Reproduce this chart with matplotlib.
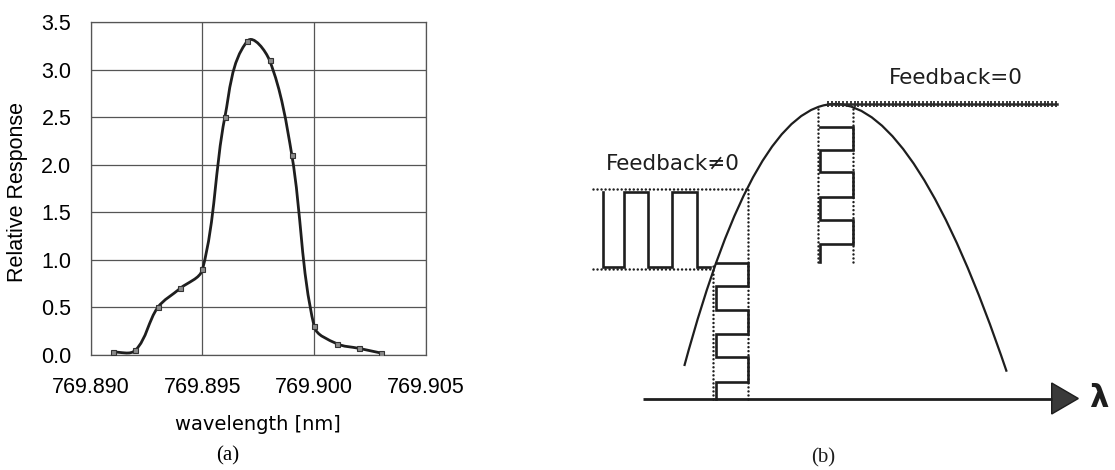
import numpy as np
import matplotlib
matplotlib.use("Agg")
import matplotlib.pyplot as plt
from matplotlib.path import Path
from matplotlib.patches import PathPatch, Polygon

# ---------------- (a) measured response ----------------
wavelength = [769.891, 769.892, 769.893, 769.894, 769.895, 769.896, 769.897,
              769.898, 769.899, 769.900, 769.901, 769.902, 769.903]
response = [0.03, 0.05, 0.50, 0.70, 0.90, 2.50, 3.30,
            3.10, 2.10, 0.30, 0.12, 0.07, 0.02]
x_ticks = [769.890, 769.895, 769.900, 769.905]
y_ticks = [0.0, 0.5, 1.0, 1.5, 2.0, 2.5, 3.0, 3.5]

# ---------------- (b) lock-in schematic (schematic units) ----------------
axis_x = [83.3, 491.7]          # lambda axis start / arrow base
arrow_tip = 518.3
arrow_half = 15.5
# response curve as quadratic Bezier: start, control, end
curve_pts = [(124.3, 32.5), (266.5, 559.35), (446.7, 26.8)]
peak_level = 294.5
flat_x = [268.0, 496.5]
# dithering at the peak (time runs downward)
peak_mod_x = [260.0, 292.6]
peak_mod_levels = [271.2, 248.5, 226.2, 201.8, 178.5, 154.5, 136.8]
peak_guides_x = [258.3, 292.6]
peak_guides_y = [136.8, 290.5]
# dithering on the slope
slope_mod_x = [155.7, 188.3]
slope_mod_levels = [135.5, 112.5, 88.5, 65.0, 41.5, 16.5, 0.0]
slope_guides_x = [153.3, 187.7]
# resulting output signal on the slope
out_edges = [42.7, 64.3, 88.3, 111.7, 136.7, 150.0]
out_hi, out_lo = 206.8, 131.2
out_guide_hi, out_guide_lo = 209.2, 129.2
out_guide_start = 33.3

W, H, DPI = 1115, 470, 100
fig = plt.figure(figsize=(W / DPI, H / DPI), dpi=DPI)
fig.patch.set_facecolor("white")

sans = ["Liberation Sans", "DejaVu Sans"]
ink = "#1e1e1e"

# ---- panel (a)
ax = fig.add_axes([90.7 / W, 1 - 355 / H, (426 - 90.7) / W, (355 - 22.3) / H])
ax.set_xlim(x_ticks[0], x_ticks[-1])
ax.set_ylim(y_ticks[0], y_ticks[-1])
ax.set_xticks(x_ticks)
ax.set_yticks(y_ticks)
ax.set_xticklabels([f"{v:.3f}" for v in x_ticks], fontfamily=sans, fontsize=15.5)
ax.set_yticklabels([f"{v:.1f}" for v in y_ticks], fontfamily=sans, fontsize=15.5)
ax.tick_params(axis="both", length=0)
ax.tick_params(axis="x", pad=16)
ax.tick_params(axis="y", pad=14)
ax.grid(True, color="#555555", linewidth=0.9)
ax.set_axisbelow(True)
for s in ax.spines.values():
    s.set_color("#555555")
    s.set_linewidth(0.9)


def smooth_path(axes, xs, ys, k=1.0 / 3.0):
    """Smoothed line through the points: cubic Bezier segments whose control
    handles follow the neighbour chord and scale with each segment's length
    on screen."""
    to_px = axes.transData
    to_data = axes.transData.inverted()
    pts = to_px.transform(np.column_stack([xs, ys]).astype(float))
    n = len(pts)
    tang = np.zeros_like(pts)
    for i in range(n):
        a = pts[max(i - 1, 0)]
        b = pts[min(i + 1, n - 1)]
        d = b - a
        tang[i] = d / np.hypot(*d)
    verts = [pts[0]]
    codes = [Path.MOVETO]
    for i in range(n - 1):
        seg = np.hypot(*(pts[i + 1] - pts[i]))
        c1 = pts[i] + tang[i] * seg * k
        c2 = pts[i + 1] - tang[i + 1] * seg * k
        verts += [c1, c2, pts[i + 1]]
        codes += [Path.CURVE4] * 3
    return Path(to_data.transform(np.array(verts)), codes)


ax.add_patch(PathPatch(smooth_path(ax, wavelength, response), facecolor="none",
                       edgecolor=ink, linewidth=2.0, zorder=3))
ax.plot(wavelength, response, ls="none", marker="s", ms=3.6,
        mfc="#8a8a8a", mec="#333333", mew=0.8, zorder=4)

ax.set_xlabel("wavelength [nm]", fontfamily="DejaVu Sans", fontsize=14)
ax.xaxis.set_label_coords(0.5, -0.18)
fig.text(18 / W, 1 - 192 / H, "Relative Response", rotation=90,
         ha="center", va="center", fontfamily=sans, fontsize=15.5)
fig.text(228 / W, 1 - 456 / H, "(a)", ha="center", va="center",
         fontfamily="Liberation Serif", fontsize=15)

# ---- panel (b)
bx = fig.add_axes([560 / W, 0, (W - 560) / W, 1])
bx.set_xlim(0, W - 560)
bx.set_ylim(398.5 - H, 398.5)
bx.axis("off")

# lambda axis with arrow head
bx.plot(axis_x, [0, 0], color=ink, lw=2.0, solid_capstyle="butt")
bx.add_patch(Polygon([(axis_x[1], arrow_half), (arrow_tip, 0), (axis_x[1], -arrow_half)],
                     closed=True, facecolor="#3a3a3a", edgecolor=ink, lw=1.0))
bx.text(arrow_tip + 20, 0, "λ", ha="center", va="center",
        fontfamily="DejaVu Sans", fontweight="bold", fontsize=22, color=ink)

# response curve
bx.add_patch(PathPatch(Path(curve_pts, [Path.MOVETO, Path.CURVE3, Path.CURVE3]),
                       facecolor="none", edgecolor=ink, lw=1.6))

dot = dict(color=ink, lw=1.8, linestyle=(0, (0.01, 1.6)), dash_capstyle="round")
sq = dict(color=ink, lw=1.9, solid_joinstyle="miter")


def vertical_square(xl, xr, levels):
    xs, ys = [], []
    left = True
    for lv in levels[:-1]:
        a, b = (xl, xr) if left else (xr, xl)
        xs += [a, b]
        ys += [lv, lv]
        left = not left
    xs.append(xs[-1])
    ys.append(levels[-1])
    return xs, ys


# flat output at the peak (fast ripple)
bx.plot(flat_x, [peak_level, peak_level], color="#2a2a2a", lw=1.8)
ripple = np.arange(flat_x[0], flat_x[1], 3.8)
bx.plot(ripple, np.full_like(ripple, peak_level), ls="none", marker="|",
        ms=4.6, mew=1.3, color="#2a2a2a")

# dithering at the peak
for gx in peak_guides_x:
    bx.plot([gx, gx], peak_guides_y, **dot)
xs, ys = vertical_square(peak_mod_x[0], peak_mod_x[1], peak_mod_levels)
bx.plot(xs, ys, **sq)

# dithering on the slope
bx.plot([slope_guides_x[0]] * 2, [0, slope_mod_levels[0]], **dot)
bx.plot([slope_guides_x[1]] * 2, [0, out_guide_hi], **dot)
xs, ys = vertical_square(slope_mod_x[0], slope_mod_x[1], slope_mod_levels)
bx.plot(xs, ys, **sq)

# resulting output signal
bx.plot([out_guide_start, slope_guides_x[1]], [out_guide_hi] * 2, **dot)
bx.plot([out_guide_start, slope_guides_x[0]], [out_guide_lo] * 2, **dot)
out_x = [out_edges[0]] + out_edges
out_y = [out_hi, out_lo, out_hi, out_lo, out_hi, out_lo, out_lo]
bx.plot(out_x, out_y, drawstyle="steps-post", **sq)

bx.text(112.5, 234.5, "Feedback≠0", ha="center", va="center",
        fontfamily="DejaVu Sans", fontsize=15.5, color=ink)
bx.text(396, 321, "Feedback=0", ha="center", va="center",
        fontfamily="DejaVu Sans", fontsize=15.5, color=ink)
bx.text(263, -59.5, "(b)", ha="center", va="center",
        fontfamily="Liberation Serif", fontsize=15, color=ink)

fig.savefig("out.png", dpi=DPI, facecolor="white")
